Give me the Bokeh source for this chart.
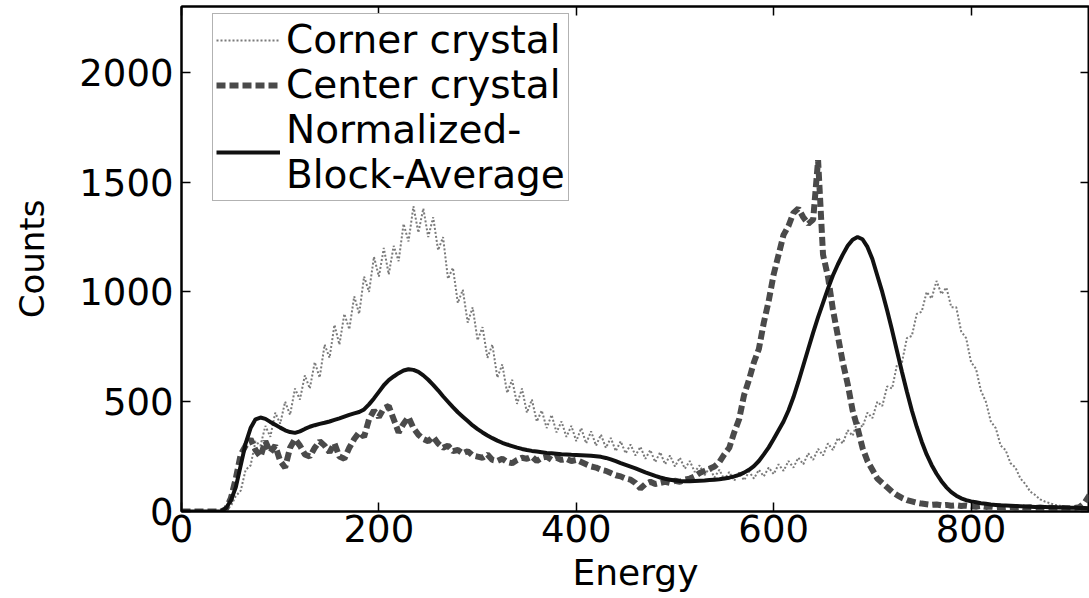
from bokeh.plotting import figure
from bokeh.models import LinearAxis, FixedTicker, Range1d, Legend, LegendItem
from bokeh.embed import file_html
from bokeh.resources import INLINE

# Energy channels (step 5), 0 .. 920
STEP = 5

corner_crystal = [
    0, 0, 0, 0, 0, 0, 0, 0, 2, 8,                       # 0-45
    25, 70, 95, 190, 210, 320, 300, 390, 340, 450,      # 50-95
    400, 500, 440, 560, 510, 620, 560, 680, 610, 760,   # 100-145
    700, 850, 760, 900, 830, 980, 900, 1070, 1000, 1160,  # 150-195
    1070, 1200, 1080, 1210, 1140, 1310, 1230, 1390, 1270, 1380,  # 200-245
    1250, 1340, 1190, 1250, 1060, 1110, 950, 1010, 860, 930,  # 250-295
    780, 840, 700, 760, 610, 670, 540, 600, 490, 560,   # 300-345
    450, 510, 410, 460, 380, 440, 360, 410, 340, 390,   # 350-395
    320, 380, 310, 365, 300, 350, 290, 335, 275, 320,   # 400-445
    265, 305, 255, 295, 240, 280, 225, 270, 215, 255,   # 450-495
    205, 245, 195, 230, 180, 210, 165, 200, 155, 190,   # 500-545
    145, 180, 140, 178, 142, 182, 150, 190, 160, 200,   # 550-595
    170, 215, 185, 230, 200, 245, 215, 265, 235, 285,   # 600-645
    255, 310, 280, 335, 310, 370, 345, 410, 385, 450,   # 650-695
    425, 500, 480, 570, 560, 670, 680, 790, 800, 900,   # 700-745
    910, 1000, 970, 1050, 990, 1020, 930, 930, 820, 790,  # 750-795
    680, 650, 550, 500, 410, 380, 300, 280, 220, 200,   # 800-845
    150, 125, 90, 75, 55, 45, 38, 30, 26, 22,           # 850-895
    20, 18, 16, 15, 15,                                 # 900-920
]

center_crystal = [
    0, 0, 0, 0, 0, 0, 0, 0, 0, 10,                      # 0-45
    60, 150, 260, 300, 330, 280, 250, 320, 270, 300,    # 50-95
    230, 200, 290, 330, 300, 260, 250, 290, 320, 300,   # 100-145
    270, 310, 250, 240, 290, 330, 360, 340, 420, 460,   # 150-195
    430, 470, 480, 420, 360, 400, 430, 380, 350, 330,   # 200-245
    320, 340, 310, 290, 300, 275, 280, 265, 275, 255,   # 250-295
    250, 245, 260, 235, 230, 240, 225, 220, 235, 245,   # 300-345
    240, 250, 230, 245, 250, 235, 245, 235, 240, 230,   # 350-395
    235, 225, 215, 205, 200, 190, 185, 175, 165, 160,   # 400-445
    150, 145, 130, 105, 125, 135, 125, 130, 135, 130,   # 450-495
    140, 135, 145, 150, 160, 175, 185, 195, 205, 225,   # 500-545
    260, 290, 360, 420, 530, 600, 680, 740, 860, 960,   # 550-595
    1080, 1170, 1260, 1300, 1360, 1380, 1340, 1310, 1330, 1600,  # 600-645
    1170, 1070, 920, 800, 680, 580, 460, 380, 290, 230,  # 650-695
    190, 150, 130, 110, 90, 75, 62, 52, 46, 40,         # 700-745
    36, 33, 30, 32, 28, 30, 26, 28, 25, 27,             # 750-795
    24, 22, 25, 21, 23, 20, 22, 19, 21, 18,             # 800-845
    20, 17, 19, 16, 18, 16, 17, 15, 16, 15,             # 850-895
    15, 16, 20, 40, 75,                                 # 900-920
]

block_average = [
    0, 0, 0, 0, 0, 0, 0, 0, 0, 15,                      # 0-45
    50, 110, 210, 310, 380, 420, 428, 422, 408, 395,    # 50-95
    382, 370, 362, 358, 365, 376, 386, 393, 399, 404,   # 100-145
    410, 417, 424, 432, 440, 447, 453, 465, 488, 515,   # 150-195
    545, 575, 598, 615, 630, 642, 648, 645, 636, 620,   # 200-245
    600, 577, 552, 525, 500, 475, 452, 432, 412, 392,   # 250-295
    375, 360, 346, 334, 323, 313, 305, 298, 291, 285,   # 300-345
    280, 276, 273, 270, 267, 265, 263, 261, 260, 258,   # 350-395
    257, 256, 255, 254, 252, 249, 244, 237, 229, 220,   # 400-445
    212, 204, 196, 187, 178, 170, 162, 155, 149, 145,   # 450-495
    141, 139, 138, 138, 139, 140, 141, 143, 145, 147,   # 500-545
    150, 154, 160, 167, 177, 190, 207, 230, 260, 292,   # 550-595
    330, 370, 410, 460, 520, 590, 665, 740, 815, 885,   # 600-645
    950, 1015, 1075, 1125, 1170, 1210, 1238, 1250, 1240, 1205,  # 650-695
    1150, 1075, 1000, 915, 825, 730, 635, 545, 460, 385,  # 700-745
    318, 260, 212, 172, 138, 110, 88, 72, 60, 52,       # 750-795
    46, 42, 38, 35, 32, 30, 28, 27, 26, 25,             # 800-845
    24, 23, 22, 21, 20, 20, 19, 19, 18, 18,             # 850-895
    17, 17, 16, 16, 15,                                 # 900-920
]

energy = [STEP * i for i in range(len(block_average))]

x_ticks = [0, 200, 400, 600, 800]
y_ticks = [0, 500, 1000, 1500, 2000]
x_label = "Energy"
y_label = "Counts"
series_names = ["Corner crystal", "Center crystal", "Normalized-\nBlock-Average"]

FONT = "DejaVu Sans"

p = figure(width=1089, height=598,
           x_range=Range1d(0, 920), y_range=Range1d(0, 2300),
           output_backend="svg", toolbar_location=None,
           min_border_left=181, min_border_right=0, min_border_top=6,
           min_border_bottom=87)
p.xgrid.visible = False
p.ygrid.visible = False
p.outline_line_color = "black"
p.outline_line_width = 2
p.background_fill_color = "white"
p.border_fill_color = "white"

r_corner = p.line(energy, corner_crystal, line_color="#7a7a7a", line_width=2,
                  line_dash="2 2")
r_center = p.line(energy, center_crystal, line_color="#4a4a4a", line_width=6,
                  line_dash="9 4")
r_block = p.line(energy, block_average, line_color="#111111", line_width=4)

for ax in p.xaxis:
    ax.ticker = FixedTicker(ticks=x_ticks)
    ax.axis_label = x_label
    ax.axis_label_text_font = FONT
    ax.axis_label_text_font_size = "36px"
    ax.axis_label_text_font_style = "normal"
    ax.axis_label_standoff = 7
    ax.major_label_text_font = FONT
    ax.major_label_text_font_size = "37px"
    ax.major_label_standoff = 3
for ax in p.yaxis:
    ax.ticker = FixedTicker(ticks=y_ticks)
    ax.axis_label = y_label
    ax.axis_label_text_font = FONT
    ax.axis_label_text_font_size = "34px"
    ax.axis_label_text_font_style = "normal"
    ax.axis_label_standoff = 24
    ax.major_label_text_font = FONT
    ax.major_label_text_font_size = "37px"
    ax.major_label_standoff = 8
for ax in list(p.xaxis) + list(p.yaxis):
    ax.major_tick_in = 9
    ax.major_tick_out = 0
    ax.minor_tick_line_color = None
    ax.axis_line_width = 2
    ax.major_tick_line_width = 1.5
    ax.major_label_text_color = "black"
    ax.axis_label_text_color = "black"

top = LinearAxis(ticker=FixedTicker(ticks=x_ticks), major_tick_in=9, major_tick_out=0,
                 minor_tick_line_color=None, major_label_text_font_size="1px",
                 major_label_text_color=None,
                 major_label_standoff=0, axis_line_width=2, major_tick_line_width=1.5)
right = LinearAxis(ticker=FixedTicker(ticks=y_ticks), major_tick_in=9, major_tick_out=0,
                   minor_tick_line_color=None, major_label_text_font_size="1px",
                   major_label_text_color=None,
                   major_label_standoff=0, axis_line_width=2, major_tick_line_width=1.5)
p.add_layout(top, "above")
p.add_layout(right, "right")

legend = Legend(items=[
    LegendItem(label=series_names[0], renderers=[r_corner]),
    LegendItem(label=series_names[1], renderers=[r_center]),
    LegendItem(label=series_names[2], renderers=[r_block]),
], location=(31, 310))
legend.label_text_font = FONT
legend.label_text_font_size = "39px"
legend.label_text_line_height = 0.95
legend.label_text_color = "black"
legend.border_line_color = "#666666"
legend.border_line_width = 1.5
legend.background_fill_alpha = 1
legend.glyph_width = 64
legend.label_standoff = 6
legend.padding = 3
legend.spacing = 0
legend.margin = 0
p.add_layout(legend, "center")

open("out.html", "w").write(file_html(p, INLINE))
